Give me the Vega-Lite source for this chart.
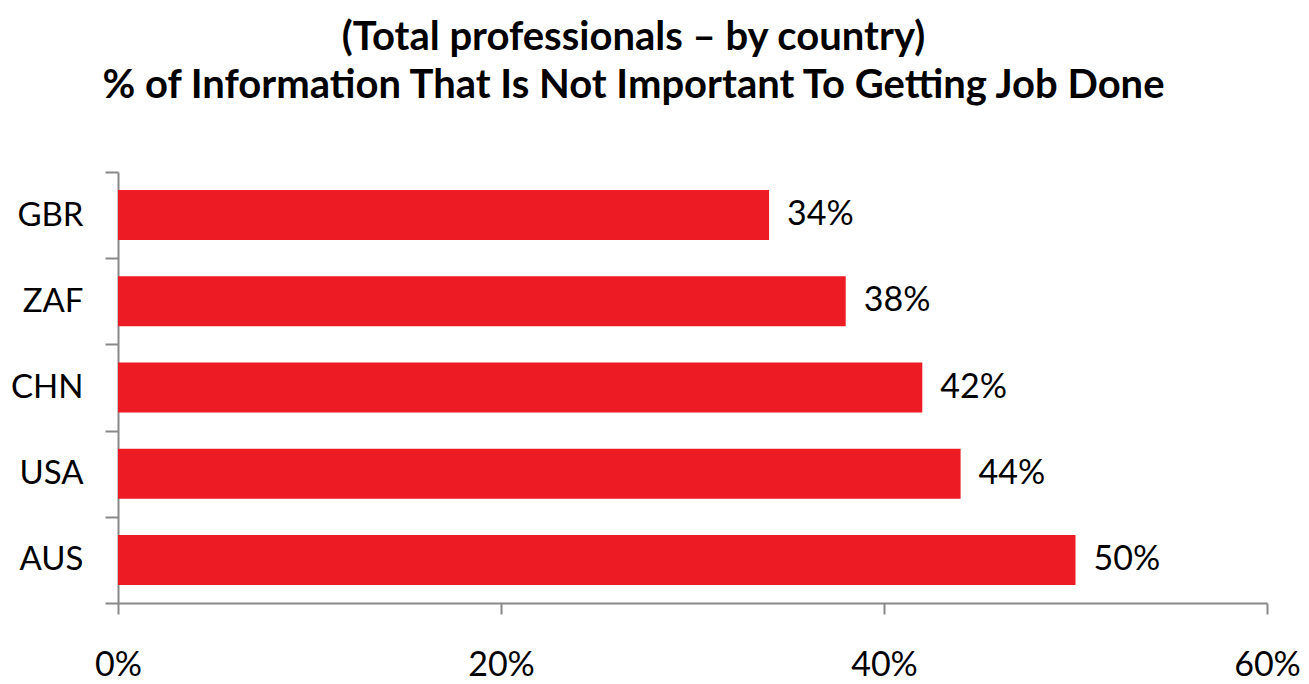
{
  "$schema": "https://vega.github.io/schema/vega-lite/v6.json",
  "autosize": "none",
  "width": 1149,
  "height": 431,
  "padding": {"left": 118, "top": 172, "right": 42, "bottom": 81},
  "background": "white",
  "title": {
    "text": ["(Total professionals – by country)", "% of Information That Is Not Important To Getting Job Done"],
    "font": "Lato, sans-serif",
    "fontSize": 40,
    "fontWeight": "bold",
    "color": "#000000",
    "lineHeight": 48,
    "anchor": "middle",
    "dx": -59,
    "offset": 50
  },
  "data": {
    "values": [
      {"country": "GBR", "value": 34, "label": "34%"},
      {"country": "ZAF", "value": 38, "label": "38%"},
      {"country": "CHN", "value": 42, "label": "42%"},
      {"country": "USA", "value": 44, "label": "44%"},
      {"country": "AUS", "value": 50, "label": "50%"}
    ]
  },
  "encoding": {
    "y": {
      "field": "country",
      "type": "nominal",
      "sort": null,
      "scale": {"paddingInner": 0, "paddingOuter": 0},
      "axis": {
        "title": null,
        "tickBand": "extent",
        "domainColor": "#888888",
        "domainWidth": 2,
        "tickColor": "#888888",
        "tickWidth": 2,
        "tickSize": 13,
        "labelFont": "Lato, sans-serif",
        "labelFontSize": 33,
        "labelColor": "#000000",
        "labelPadding": 22
      }
    },
    "x": {
      "field": "value",
      "type": "quantitative",
      "scale": {"domain": [0, 60]},
      "axis": {
        "title": null,
        "values": [0, 20, 40, 60],
        "labelExpr": "datum.value + '%'",
        "grid": false,
        "domainColor": "#888888",
        "domainWidth": 2,
        "tickColor": "#888888",
        "tickWidth": 2,
        "tickSize": 11,
        "labelFont": "Lato, sans-serif",
        "labelFontSize": 34,
        "labelColor": "#000000",
        "labelPadding": 34,
        "labelFlush": false
      }
    }
  },
  "layer": [
    {"mark": {"type": "bar", "color": "#ED1C24", "height": {"band": 0.58}}},
    {
      "mark": {"type": "text", "align": "left", "dx": 18, "font": "Lato, sans-serif", "fontSize": 34, "color": "#000000"},
      "encoding": {"text": {"field": "label"}}
    }
  ],
  "config": {"view": {"stroke": null}}
}
